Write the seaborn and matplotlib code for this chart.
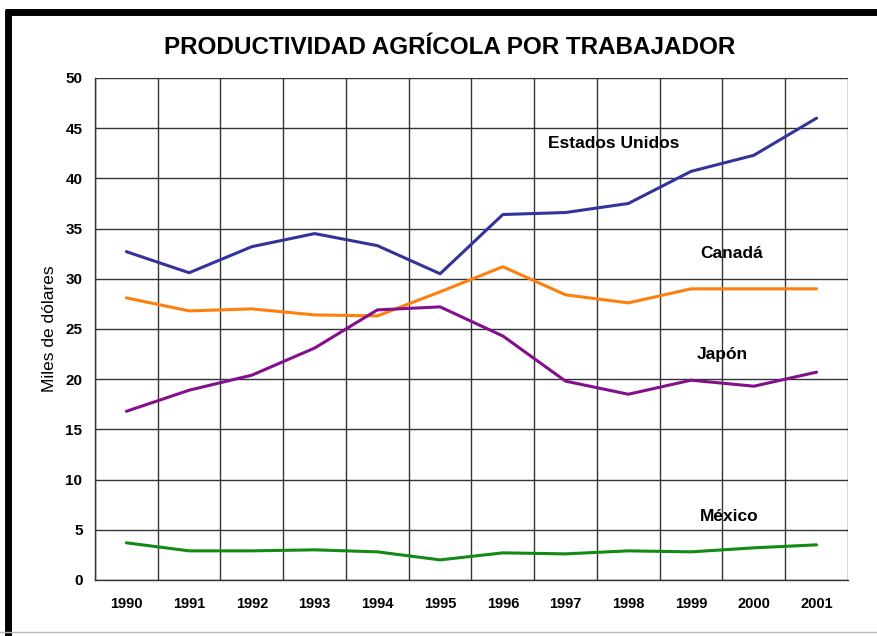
import matplotlib
matplotlib.use("Agg")
import matplotlib.pyplot as plt
import numpy as np
import pandas as pd
import seaborn as sns
from matplotlib.lines import Line2D

# data (miles de dolares por trabajador)
years = [1990, 1991, 1992, 1993, 1994, 1995, 1996, 1997, 1998, 1999, 2000, 2001]
estados_unidos = [32.7, 30.6, 33.2, 34.5, 33.3, 30.5, 36.4, 36.6, 37.5, 40.7, 42.3, 46.0]
canada = [28.1, 26.8, 27.0, 26.4, 26.3, 28.7, 31.2, 28.4, 27.6, 29.0, 29.0, 29.0]
japon = [16.8, 18.9, 20.4, 23.1, 26.9, 27.2, 24.3, 19.8, 18.5, 19.9, 19.3, 20.7]
mexico = [3.7, 2.9, 2.9, 3.0, 2.8, 2.0, 2.7, 2.6, 2.9, 2.8, 3.2, 3.5]

series = ["Estados Unidos", "Canadá", "Japón", "México"]
colors = ["#33339a", "#ff7f0e", "#840f8c", "#138a13"]

df = pd.DataFrame({
    "año": years * 4,
    "valor": estados_unidos + canada + japon + mexico,
    "pais": np.repeat(series, len(years)),
})

sns.set_style("white")
plt.rcParams["font.family"] = ["Liberation Sans", "DejaVu Sans"]
plt.rcParams["text.color"] = "black"
plt.rcParams["xtick.color"] = "black"
plt.rcParams["ytick.color"] = "black"
plt.rcParams["axes.labelcolor"] = "black"

fig = plt.figure(figsize=(8.78, 6.36), dpi=100)
ax = fig.add_axes([0.1082, 0.0881, 0.8576, 0.7893])

sns.lineplot(data=df, x="año", y="valor", hue="pais", palette=colors,
             linewidth=2.2, legend=False, ax=ax, zorder=3)

ax.set_xlim(years[0] - 0.5, years[-1] + 0.5)
ax.set_ylim(0, 50)
ax.set_yticks(np.arange(0, 51, 5))
ax.set_xticks(years)
ax.set_xticklabels([str(y) for y in years], fontsize=10.5, fontweight="bold")
ax.set_xticks(np.arange(years[0] - 0.5, years[-1] + 1, 1), minor=True)
for lab in ax.get_yticklabels():
    lab.set_fontsize(11)
    lab.set_fontweight("bold")

ax.grid(False)
ax.grid(True, axis="y", which="major", color="#333333", linewidth=1)
ax.grid(True, axis="x", which="minor", color="#333333", linewidth=1)
ax.tick_params(axis="x", which="major", length=0, pad=12)
ax.tick_params(axis="x", which="minor", length=4, width=1, color="#333333", direction="out")
ax.tick_params(axis="y", which="major", length=5, width=1, color="#333333", direction="out", pad=4)

for side in ["top", "right"]:
    ax.spines[side].set_visible(False)
for side in ["left", "bottom"]:
    ax.spines[side].set_color("#333333")
    ax.spines[side].set_linewidth(1)

ax.set_xlabel("")
ax.set_ylabel("Miles de dólares", fontsize=12.5, labelpad=6)

# series labels
label_pos = {"Estados Unidos": (1997.77, 43.5), "Canadá": (1999.64, 32.5),
             "Japón": (1999.5, 22.5), "México": (1999.6, 6.3)}
for name, (lx, ly) in label_pos.items():
    ax.text(lx, ly, name, fontsize=12.5, fontweight="bold", ha="center", va="center")

fig.text(0.5125, 0.925, "PRODUCTIVIDAD AGRÍCOLA POR TRABAJADOR",
         fontsize=17.5, fontweight="bold", ha="center", va="center")

# outer frame like the original screenshot
fig.add_artist(Line2D([0.0092, 0.0092], [0.0, 0.985], color="black", linewidth=5,
                      transform=fig.transFigure, solid_capstyle="butt"))
fig.add_artist(Line2D([0.006, 1.0], [0.981, 0.981], color="black", linewidth=5,
                      transform=fig.transFigure, solid_capstyle="butt"))
fig.add_artist(Line2D([0.0, 1.0], [0.006, 0.006], color="#bbbbbb", linewidth=1,
                      transform=fig.transFigure))

fig.savefig("out.png", dpi=100)
